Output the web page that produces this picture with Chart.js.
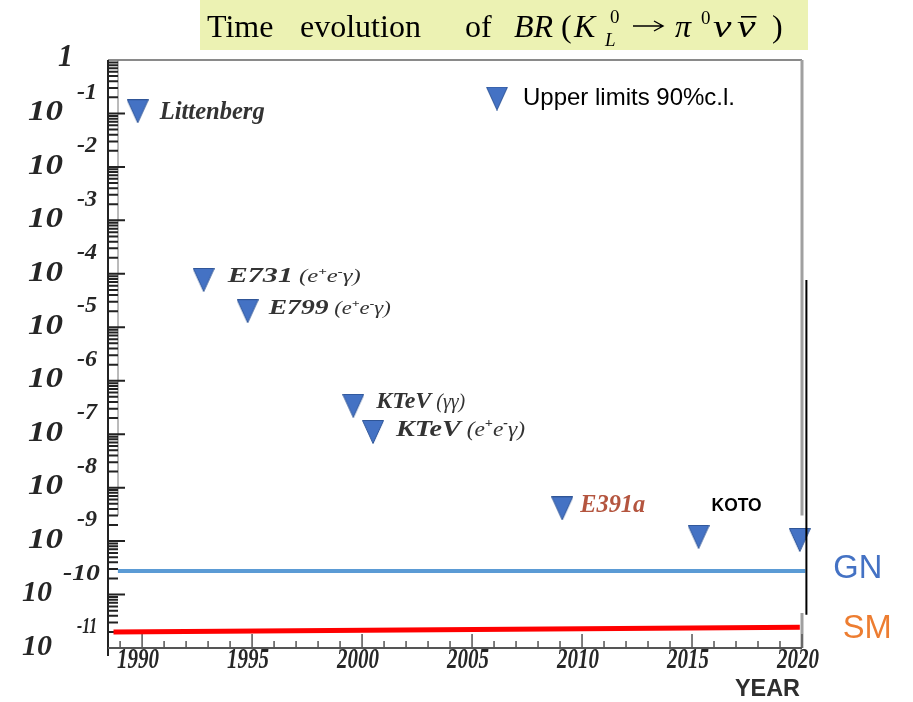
<!DOCTYPE html>
<html>
<head>
<meta charset="utf-8">
<script src="https://cdn.jsdelivr.net/npm/chart.js@4.4.1/dist/chart.umd.min.js"></script>
<style>
  html, body { margin: 0; padding: 0; background: #fff; }
  #wrap { width: 913px; height: 702px; }
</style>
</head>
<body>
<div id="wrap"><canvas id="chart" width="913" height="702"></canvas></div>
<script>
// K_L -> pi0 nu nubar: 90% c.l. upper limits by year
const pointLabels = ['Littenberg', 'E731 (e+e-γ)', 'E799 (e+e-γ)', 'KTeV (γγ)', 'KTeV (e+e-γ)', 'E391a', 'KOTO', ''];
const years = [1989.8, 1992.8, 1994.8, 1999.6, 2000.5, 2009.1, 2015.3, 2019.9];
const upperLimits = [1.1e-1, 7.7e-5, 2.0e-5, 3.4e-7, 1.1e-7, 4.1e-9, 1.2e-9, 1.05e-9];

// Grossman-Nir bound and Standard Model prediction
const gnYears = [1988.9, 2020.15];
const gnValues = [2.75e-10, 2.75e-10];
const smYears = [1988.7, 2019.9];
const smValues = [2.0e-11, 2.45e-11];

// black marker line next to the 2020 point
const edgeYears = [2020.2, 2020.2];
const edgeValues = [7.7e-5, 4.2e-11];

const yearTicks = [1990, 1995, 2000, 2005, 2010, 2015, 2020];
const decadeExponents = [0, -1, -2, -3, -4, -5, -6, -7, -8, -9, -10, -11];

// label placement / look, one entry per point
const labelStyle = [
  { dx: 22, dy: -1, size: 26, width: 105 },
  { dx: 24, dy: -5, size: 22, width: 133 },
  { dx: 21, dy: -4, size: 22, width: 122 },
  { dx: 23, dy: -6, size: 24, width: 89 },
  { dx: 23, dy: -4, size: 24, width: 129 },
  { dx: 18, dy: -5, size: 26, width: 65, color: '#b4553f' },
  { dx: 38, dy: -31, sans: true },
  null
];

const SERIF = '"Liberation Serif", "DejaVu Serif", serif';
const SANS = '"Liberation Sans", Arial, sans-serif';

function makeTriangle(w, h) {
  const c = document.createElement('canvas');
  c.width = w;
  c.height = h;
  const g = c.getContext('2d');
  g.beginPath();
  g.moveTo(0.5, 0.5);
  g.lineTo(w - 0.5, 0.5);
  g.lineTo(w / 2, h - 0.5);
  g.closePath();
  g.fillStyle = '#4472C4';
  g.fill();
  g.strokeStyle = '#2F5597';
  g.lineWidth = 1;
  g.stroke();
  return c;
}
const triangle = makeTriangle(22, 24);

// draw text squeezed/stretched to a given width
function drawFitted(ctx, text, font, x, y, width, align) {
  ctx.font = font;
  const s = width / ctx.measureText(text).width;
  const left = align === 'center' ? x - width / 2 : align === 'right' ? x - width : x;
  ctx.save();
  ctx.textAlign = 'left';
  ctx.textBaseline = 'middle';
  ctx.translate(left, y);
  ctx.scale(s, 1);
  ctx.fillText(text, 0, 0);
  ctx.restore();
}

// "E731 (e+e-γ)" -> bold name, bracket part with raised charges
function labelSegments(label, size) {
  const i = label.indexOf(' (');
  const name = i < 0 ? label : label.slice(0, i);
  const segs = [{ t: name, f: `italic bold ${size}px ${SERIF}`, r: 0 }];
  if (i >= 0) {
    const small = Math.round(size * 0.82);
    for (const ch of label.slice(i)) {
      if (ch === '+' || ch === '-') {
        segs.push({ t: ch, f: `italic bold ${Math.round(size * 0.5)}px ${SERIF}`, r: -small * 0.42 });
      } else {
        segs.push({ t: ch, f: `italic ${small}px ${SERIF}`, r: 0 });
      }
    }
  }
  return segs;
}

function drawSegments(ctx, segs, left, baseline, width) {
  let total = 0;
  for (const s of segs) {
    ctx.font = s.f;
    s.w = ctx.measureText(s.t).width;
    total += s.w;
  }
  const k = width / total;
  ctx.save();
  ctx.textAlign = 'left';
  ctx.textBaseline = 'alphabetic';
  ctx.translate(left, baseline);
  ctx.scale(k, 1);
  let cx = 0;
  for (const s of segs) {
    ctx.font = s.f;
    ctx.fillText(s.t, cx, s.r);
    cx += s.w;
  }
  ctx.restore();
}

function put(ctx, text, font, x, baseline, sx = 1) {
  ctx.font = font;
  ctx.save();
  ctx.translate(x, baseline);
  ctx.scale(sx, 1);
  ctx.fillText(text, 0, 0);
  ctx.restore();
  return x + ctx.measureText(text).width * sx;
}

function drawTitle(ctx) {
  ctx.save();
  ctx.fillStyle = '#ecf2b3';
  ctx.fillRect(200, 0, 608, 50);
  ctx.fillStyle = '#000';
  ctx.strokeStyle = '#000';
  ctx.textBaseline = 'alphabetic';
  const big = `32px ${SERIF}`;
  const bigIt = `italic 32px ${SERIF}`;
  const small = `19px ${SERIF}`;
  const smallIt = `italic 19px ${SERIF}`;
  const b = 37;
  put(ctx, 'Time', big, 207, b);
  put(ctx, 'evolution', big, 300, b);
  put(ctx, 'of', big, 465, b);
  put(ctx, 'BR', bigIt, 514, b);
  put(ctx, '(', big, 561, b);
  put(ctx, 'K', bigIt, 574, b);
  put(ctx, '0', small, 610, 23);
  put(ctx, 'L', smallIt, 605, 46);
  // arrow
  ctx.lineWidth = 1.4;
  ctx.beginPath();
  ctx.moveTo(633, 26);
  ctx.lineTo(662, 26);
  ctx.moveTo(654, 21);
  ctx.lineTo(663, 26);
  ctx.lineTo(654, 31);
  ctx.stroke();
  put(ctx, 'π', bigIt, 675, b);
  put(ctx, '0', small, 701, 24);
  put(ctx, 'ν', bigIt, 713, b, 1.3);
  const end = put(ctx, 'ν', bigIt, 737, b, 1.3);
  ctx.fillRect(741, 16, end - 740, 1.6);
  put(ctx, ')', big, 772, b);
  ctx.restore();
}

const paperPlugin = {
  id: 'paper',
  beforeDatasetsDraw(chart) {
    const { ctx, chartArea: a, scales: { x, y } } = chart;
    const patchY = y.getPixelForValue(Math.pow(10, -8.52));
    ctx.save();
    drawTitle(ctx);

    ctx.filter = 'blur(0.5px)';
    ctx.strokeStyle = '#8a8a8a';
    ctx.lineWidth = 2;
    ctx.beginPath();
    ctx.moveTo(a.left, a.top);
    ctx.lineTo(a.right, a.top);
    ctx.stroke();
    ctx.strokeStyle = '#a0a0a0';
    ctx.lineWidth = 3;
    ctx.beginPath();
    ctx.moveTo(a.right, a.top);
    ctx.lineTo(a.right, patchY);
    ctx.moveTo(a.right, a.bottom - 35);
    ctx.lineTo(a.right, a.bottom);
    ctx.stroke();

    // left axis with dense log ticks
    ctx.strokeStyle = '#222';
    ctx.lineWidth = 2;
    ctx.beginPath();
    ctx.moveTo(a.left, a.top);
    ctx.lineTo(a.left, a.bottom + 8);
    ctx.stroke();
    ctx.strokeStyle = '#777';
    ctx.lineWidth = 1;
    ctx.beginPath();
    ctx.moveTo(a.left + 10, a.top);
    ctx.lineTo(a.left + 10, patchY);
    ctx.stroke();
    ctx.strokeStyle = '#222';
    ctx.lineWidth = 2;
    ctx.beginPath();
    for (let d = -11; d < 0; d++) {
      for (let m = 1; m <= 9; m++) {
        const py = y.getPixelForValue(m * Math.pow(10, d));
        const len = m === 1 ? 17 : 10;
        ctx.moveTo(a.left, py);
        ctx.lineTo(a.left + len, py);
      }
    }
    ctx.stroke();

    // bottom axis, a tick per year
    ctx.strokeStyle = '#555';
    ctx.lineWidth = 2;
    ctx.beginPath();
    ctx.moveTo(a.left, a.bottom);
    ctx.lineTo(a.right, a.bottom);
    ctx.stroke();
    ctx.lineWidth = 1.5;
    ctx.beginPath();
    for (let yr = Math.ceil(x.min); yr <= x.max; yr++) {
      const px = x.getPixelForValue(yr);
      const len = yr % 5 === 0 ? 14 : 7;
      ctx.moveTo(px, a.bottom);
      ctx.lineTo(px, a.bottom - len);
    }
    ctx.stroke();
    ctx.restore();
  },
  afterDraw(chart) {
    const { ctx, chartArea: a, scales: { x, y } } = chart;
    ctx.save();
    ctx.filter = 'blur(0.6px)';
    ctx.fillStyle = '#262626';

    // y tick labels: 1, 10^-1 ... 10^-11
    ctx.save();
    ctx.beginPath();
    ctx.rect(0, 0, a.left, a.bottom + 10);
    ctx.clip();
    decadeExponents.forEach(e => {
      const py = y.getPixelForValue(Math.pow(10, e));
      if (e === 0) {
        drawFitted(ctx, '1', `italic bold 31px ${SERIF}`, 58, py - 2, 15, 'left');
        return;
      }
      const wide = e <= -10;
      drawFitted(ctx, '10', `italic bold 30px ${SERIF}`, wide ? 52 : 63, py - 1, wide ? 30 : 35, 'right');
      drawFitted(ctx, String(e), `italic bold 24px ${SERIF}`, e === -10 ? 63 : 77, py - 21,
        e === -10 ? 37 : 20, 'left');
    });
    ctx.restore();

    // x tick labels
    yearTicks.forEach(yr => {
      const px = x.getPixelForValue(yr);
      drawFitted(ctx, String(yr), `italic bold 30px ${SERIF}`, px - 4, a.bottom + 12, 42, 'center');
    });

    // experiment names beside the points
    const meta = chart.getDatasetMeta(0);
    meta.data.forEach((pt, i) => {
      const st = labelStyle[i];
      if (!st || !pointLabels[i] || st.sans) return;
      ctx.fillStyle = st.color || '#333';
      const segs = labelSegments(pointLabels[i], st.size);
      drawSegments(ctx, segs, pt.x + st.dx, pt.y + st.dy + st.size * 0.33, st.width);
    });
    ctx.filter = 'none';

    // KOTO tag
    meta.data.forEach((pt, i) => {
      const st = labelStyle[i];
      if (!st || !st.sans) return;
      ctx.fillStyle = '#000';
      drawFitted(ctx, pointLabels[i], `bold 18px ${SANS}`, pt.x + st.dx, pt.y + st.dy, 50, 'center');
    });

    // legend entry inside the frame
    const lx = a.left + 389;
    const ly = a.top + 38.5;
    ctx.drawImage(triangle, lx - triangle.width / 2, ly - triangle.height / 2);
    ctx.fillStyle = '#000';
    drawFitted(ctx, chart.data.datasets[0].label, `24px ${SANS}`, lx + 26, ly, 212, 'left');

    // GN / SM tags at the right end of their lines
    const gnEnd = chart.getDatasetMeta(1).data[1];
    const smEnd = chart.getDatasetMeta(2).data[1];
    ctx.fillStyle = '#4472C4';
    drawFitted(ctx, 'GN', `34px ${SANS}`, gnEnd.x + 28, gnEnd.y - 2, 49, 'left');
    ctx.fillStyle = '#ED7D31';
    drawFitted(ctx, 'SM', `34px ${SANS}`, smEnd.x + 43, smEnd.y + 1, 49, 'left');

    // axis title
    ctx.filter = 'blur(0.4px)';
    ctx.fillStyle = '#2e2e2e';
    drawFitted(ctx, 'YEAR', `bold 23px ${SANS}`, a.right - 2, a.bottom + 42, 65, 'right');
    ctx.restore();
  }
};

const toPoints = (xs, ys) => xs.map((v, i) => ({ x: v, y: ys[i] }));

new Chart(document.getElementById('chart'), {
  type: 'scatter',
  data: {
    datasets: [
      {
        label: 'Upper limits 90%c.l.',
        data: toPoints(years, upperLimits),
        pointStyle: triangle,
        pointRadius: 11,
        clip: false,
        order: 1
      },
      {
        label: 'GN',
        data: toPoints(gnYears, gnValues),
        showLine: true,
        borderColor: '#5B9BD5',
        borderWidth: 4,
        pointRadius: 0,
        clip: false,
        order: 3
      },
      {
        label: 'SM',
        data: toPoints(smYears, smValues),
        showLine: true,
        borderColor: '#FF0000',
        borderWidth: 5,
        pointRadius: 0,
        clip: false,
        order: 3
      },
      {
        label: 'edge',
        data: toPoints(edgeYears, edgeValues),
        showLine: true,
        borderColor: '#000',
        borderWidth: 2,
        pointRadius: 0,
        clip: false,
        order: 0
      }
    ]
  },
  options: {
    responsive: false,
    animation: false,
    layout: { padding: { left: 108, top: 60, right: 111, bottom: 54 } },
    plugins: {
      legend: { display: false },
      tooltip: { enabled: false }
    },
    scales: {
      x: { type: 'linear', min: 1988.45, max: 2020, display: false },
      y: { type: 'logarithmic', min: 1e-11, max: 1, display: false }
    }
  },
  plugins: [paperPlugin]
});
</script>
</body>
</html>
